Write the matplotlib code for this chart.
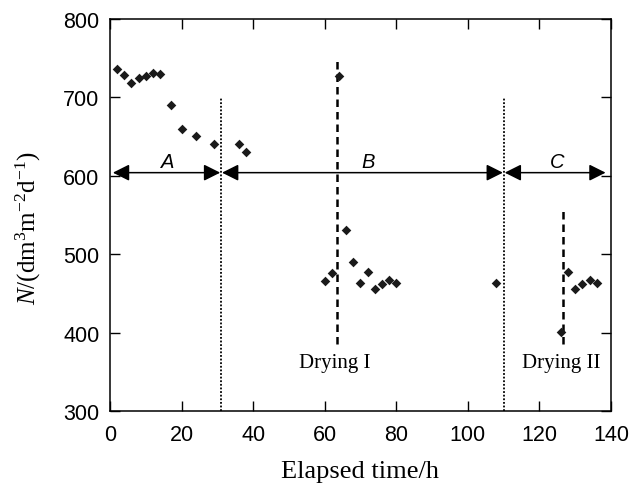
import matplotlib
matplotlib.use("Agg")
import matplotlib.pyplot as plt

plt.rcParams["font.family"] = ["Liberation Sans", "DejaVu Sans"]
plt.rcParams["mathtext.fontset"] = "custom"
plt.rcParams["mathtext.rm"] = "Liberation Serif"
plt.rcParams["mathtext.it"] = "Liberation Serif:italic"

# elapsed time (h) and N (dm3 m-2 d-1)
time_h = [2, 4, 6, 8, 10, 12, 14, 17, 20, 24, 29, 36, 38,
          64, 60, 62, 66, 68, 70, 72, 74, 76, 78, 80, 108,
          126, 128, 130, 132, 134, 136]
flux = [736, 728, 718, 725, 727, 731, 730, 690, 660, 651, 640, 641, 630,
        727, 466, 476, 531, 490, 463, 477, 456, 462, 467, 463, 463,
        401, 477, 456, 462, 467, 463]

# period boundaries (dotted) and drying events (dashed)
boundaries = [31, 110]
drying_x = [63.3, 126.7]
drying_top = [750, 555]
drying_labels = ["Drying I", "Drying II"]
drying_label_x = [62.8, 126]
periods = ["A", "B", "C"]
period_label_x = [16, 72, 125]
period_edges = [(0.8, 30.8), (31.3, 109.8), (110.3, 138.5)]

fig = plt.figure(figsize=(6.33, 4.85), dpi=100)
ax = fig.add_axes([0.1738, 0.1505, 0.7914, 0.8083])

ax.scatter(time_h, flux, marker="D", s=24, color="#1a1a1a", zorder=3, linewidths=0)

for xb in boundaries:
    ax.plot([xb, xb], [300, 700], color="black", linestyle=(0, (1, 1)), linewidth=1.3)

for xd, top in zip(drying_x, drying_top):
    ax.plot([xd, xd], [385, top], color="black", linestyle=(0, (3, 2)), linewidth=1.8)
for xl, lab in zip(drying_label_x, drying_labels):
    ax.text(xl, 362, lab, family="Liberation Serif", fontsize=15,
            ha="center", va="center")

arrow_y = 604
for (x0, x1) in period_edges:
    ax.annotate("", xy=(x0, arrow_y), xytext=(x1, arrow_y),
                arrowprops=dict(arrowstyle="<|-|>,head_length=0.5,head_width=0.25",
                                color="black", lw=1.1, mutation_scale=20,
                                shrinkA=0, shrinkB=0))
for xl, lab in zip(period_label_x, periods):
    ax.text(xl, 618, lab, style="italic", fontsize=14.5, ha="center", va="center")

ax.set_xlim(0, 140)
ax.set_ylim(300, 800)
ax.set_xticks(range(0, 141, 20))
ax.set_yticks(range(300, 801, 100))
ax.tick_params(direction="in", length=7, width=1, top=True, right=True,
               labelsize=15.5)
ax.tick_params(axis="x", pad=9)
ax.tick_params(axis="y", pad=7.5)
for sp in ax.spines.values():
    sp.set_linewidth(1.1)

ax.set_xlabel("Elapsed time/h", family="Liberation Serif", fontsize=19)
ax.set_ylabel(r"$N/(\mathrm{dm}^{3}\mathrm{m}^{-2}\mathrm{d}^{-1})$", fontsize=18)
ax.xaxis.set_label_coords(0.5, -0.125)
ax.yaxis.set_label_coords(-0.134, 0.47)

fig.savefig("out.png", dpi=100)
